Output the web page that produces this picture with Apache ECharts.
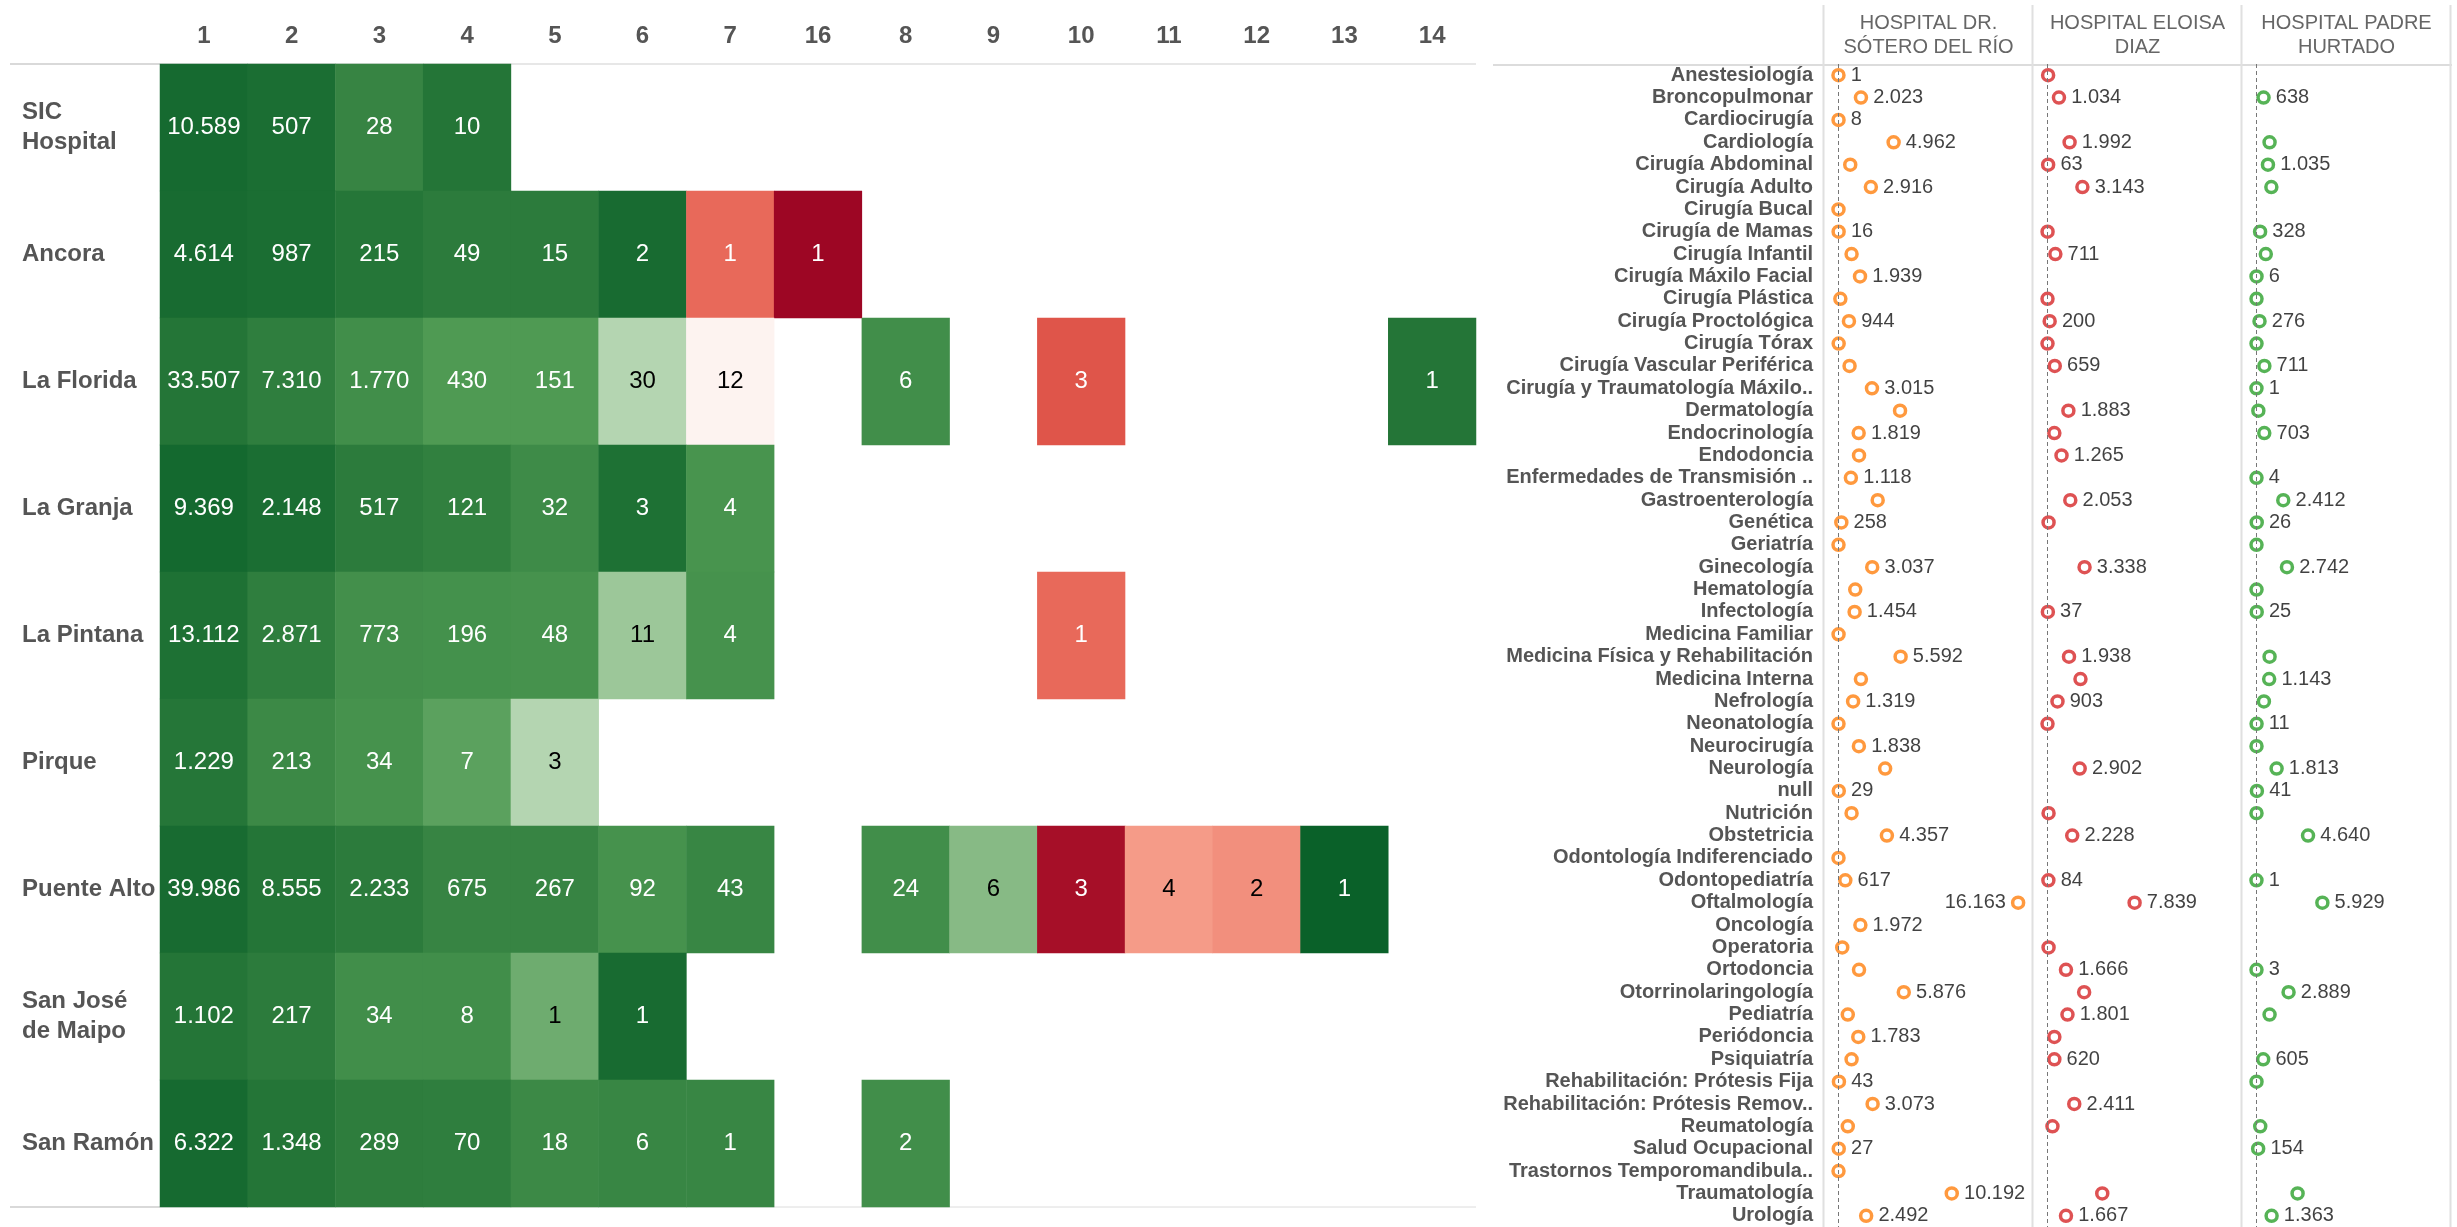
<!DOCTYPE html>
<html>
<head>
<meta charset="utf-8">
<script src="https://cdn.jsdelivr.net/npm/echarts@6/dist/echarts.min.js"></script>
<style>
  html, body { margin: 0; padding: 0; background: #fff; }
  #main { width: 2457px; height: 1227px; }
</style>
</head>
<body>
<div id="main"></div>
<script>
// heatmap: columns, rows, counts, colour measure
const cols = ['1', '2', '3', '4', '5', '6', '7', '16', '8', '9', '10', '11', '12', '13', '14'];
const rows = ['SIC\nHospital', 'Ancora', 'La Florida', 'La Granja', 'La Pintana', 'Pirque', 'Puente Alto', 'San José\nde Maipo', 'San Ramón'];

const counts = [
  [10589, 507, 28, 10],
  [4614, 987, 215, 49, 15, 2, 1, 1],
  [33507, 7310, 1770, 430, 151, 30, 12, null, 6, null, 3, null, null, null, 1],
  [9369, 2148, 517, 121, 32, 3, 4],
  [13112, 2871, 773, 196, 48, 11, 4, null, null, null, 1],
  [1229, 213, 34, 7, 3],
  [39986, 8555, 2233, 675, 267, 92, 43, null, 24, 6, 3, 4, 2, 1],
  [1102, 217, 34, 8, 1, 1],
  [6322, 1348, 289, 70, 18, 6, 1, null, 2]
];

// colour measure (-1 red .. 1 green)
const shade = [
  [0.93, 0.9, 0.74, 0.85],
  [0.92, 0.9, 0.84, 0.8, 0.8, 0.92, -0.4, -0.98],
  [0.85, 0.78, 0.68, 0.6, 0.6, 0.27, 0.0, null, 0.68, null, -0.5, null, null, null, 0.85],
  [0.94, 0.9, 0.8, 0.77, 0.7, 0.88, 0.64],
  [0.88, 0.78, 0.67, 0.66, 0.65, 0.35, 0.65, null, null, null, -0.4],
  [0.84, 0.71, 0.65, 0.56, 0.27],
  [0.92, 0.85, 0.8, 0.74, 0.74, 0.65, 0.73, null, 0.68, 0.42, -0.9, -0.2, -0.25, 1.0],
  [0.85, 0.8, 0.68, 0.68, 0.5, 0.92],
  [0.93, 0.85, 0.79, 0.78, 0.71, 0.73, 0.73, null, 0.68]
];

// dot panels
const hospitals = ['HOSPITAL DR.\nSÓTERO DEL RÍO', 'HOSPITAL ELOISA\nDIAZ', 'HOSPITAL PADRE\nHURTADO'];
const specialties = ['Anestesiología', 'Broncopulmonar', 'Cardiocirugía', 'Cardiología', 'Cirugía Abdominal',
  'Cirugía Adulto', 'Cirugía Bucal', 'Cirugía de Mamas', 'Cirugía Infantil', 'Cirugía Máxilo Facial',
  'Cirugía Plástica', 'Cirugía Proctológica', 'Cirugía Tórax', 'Cirugía Vascular Periférica',
  'Cirugía y Traumatología Máxilo..', 'Dermatología', 'Endocrinología', 'Endodoncia',
  'Enfermedades de Transmisión ..', 'Gastroenterología', 'Genética', 'Geriatría', 'Ginecología',
  'Hematología', 'Infectología', 'Medicina Familiar', 'Medicina Física y Rehabilitación',
  'Medicina Interna', 'Nefrología', 'Neonatología', 'Neurocirugía', 'Neurología', 'null', 'Nutrición',
  'Obstetricia', 'Odontología Indiferenciado', 'Odontopediatría', 'Oftalmología', 'Oncología',
  'Operatoria', 'Ortodoncia', 'Otorrinolaringología', 'Pediatría', 'Periódoncia', 'Psiquiatría',
  'Rehabilitación: Prótesis Fija', 'Rehabilitación: Prótesis Remov..', 'Reumatología',
  'Salud Ocupacional', 'Trastornos Temporomandibula..', 'Traumatología', 'Urología'];

const sotero = [1, 2023, 8, 4962, 1060, 2916, 3, 16, 1180, 1939, 170, 944, 20, 1000, 3015, 5540, 1819, 1850,
  1118, 3530, 258, 5, 3037, 1510, 1454, 10, 5592, 2020, 1319, 5, 1838, 4200, 29, 1180, 4357, 5, 617, 16163,
  1972, 340, 1850, 5876, 840, 1783, 1180, 43, 3073, 840, 27, 5, 10192, 2492];
const soteroLbl = [1, 1, 1, 1, 0, 1, 0, 1, 0, 1, 0, 1, 0, 0, 1, 0, 1, 0, 1, 0, 1, 0, 1, 0, 1, 0, 1, 0, 1, 0,
  1, 0, 1, 0, 1, 0, 1, 1, 1, 0, 0, 1, 0, 1, 0, 1, 1, 0, 1, 0, 1, 1];

const eloisa = [60, 1034, null, 1992, 63, 3143, null, 10, 711, null, 5, 200, 5, 659, null, 1883, 620, 1265,
  null, 2053, 100, null, 3338, null, 37, null, 1938, 2970, 903, 5, null, 2902, null, 100, 2228, null, 84, 7839,
  null, 100, 1666, 3300, 1801, 620, 620, null, 2411, 450, null, null, 4930, 1667];
const eloisaLbl = [0, 1, 0, 1, 1, 1, 0, 0, 1, 0, 0, 1, 0, 1, 0, 1, 0, 1, 0, 1, 0, 0, 1, 0, 1, 0, 1, 0, 1, 0,
  0, 1, 0, 0, 1, 0, 1, 1, 0, 0, 1, 0, 1, 0, 1, 0, 1, 0, 0, 0, 0, 1];

const hurtado = [null, 638, null, 1180, 1035, 1340, null, 328, 840, 6, 5, 276, 5, 711, 1, 170, 703, null, 4,
  2412, 26, 5, 2742, 5, 25, null, 1180, 1143, 670, 11, 5, 1813, 41, 5, 4640, null, 1, 5929, null, null, 3,
  2889, 1180, null, 605, 5, null, 340, 154, null, 3700, 1363];
const hurtadoLbl = [0, 1, 0, 0, 1, 0, 0, 1, 0, 1, 0, 1, 0, 1, 1, 0, 1, 0, 1, 1, 1, 0, 1, 0, 1, 0, 0, 1, 0, 1,
  0, 1, 1, 0, 1, 0, 1, 1, 0, 0, 1, 1, 0, 0, 1, 0, 0, 0, 1, 0, 0, 1];

const dotColors = ['#ff7f0e', '#d62728', '#2ca02c'];

const FONT = "'Liberation Sans', Arial, sans-serif";

function fmt(n) {
  return String(n).replace(/\B(?=(\d{3})+(?!\d))/g, '.');
}

const chart = echarts.init(document.getElementById('main'), null, { renderer: 'canvas' });

// heatmap cells
const cells = [];
counts.forEach((row, r) => {
  row.forEach((v, c) => {
    if (v == null) return;
    const t = shade[r][c];
    const dark = t > -0.3 && t < 0.53;
    cells.push({ value: [c, r, v, t], label: { color: dark ? '#000' : '#fff' } });
  });
});

function dots(vals, flags) {
  const out = [];
  vals.forEach((v, i) => {
    if (v == null) return;
    out.push({
      value: [v, i],
      label: { show: !!flags[i], position: v > 15000 ? 'left' : 'right' }
    });
  });
  return out;
}

const panelLeft = [1824, 2033, 2242];
const panelW = 209;

const grids = [{ left: 160, top: 64, width: 1316, height: 1143 }];
panelLeft.forEach(l => grids.push({ left: l, top: 64, width: panelW, height: 1163 }));

const xAxes = [{
  type: 'category', gridIndex: 0, position: 'top', data: cols,
  axisLine: { show: false }, axisTick: { show: false }, splitLine: { show: false },
  axisLabel: { fontFamily: FONT, fontSize: 24, fontWeight: 'bold', color: '#555', margin: 16 }
}];
const yAxes = [{
  type: 'category', gridIndex: 0, inverse: true, data: rows,
  axisLine: { show: false }, axisTick: { show: false },
  axisLabel: { fontFamily: FONT, fontSize: 24, fontWeight: 'bold', color: '#555', align: 'left', margin: 138, lineHeight: 30 }
}];
panelLeft.forEach((l, i) => {
  xAxes.push({
    type: 'value', gridIndex: i + 1, min: -1300, max: 17500, show: false
  });
  yAxes.push({
    type: 'category', gridIndex: i + 1, inverse: true, data: specialties,
    axisLine: { show: false }, axisTick: { show: false }, splitLine: { show: false },
    axisLabel: {
      show: i === 0, fontFamily: FONT, fontSize: 20, fontWeight: 'bold', color: '#555', margin: 11,
      interval: 0
    }
  });
});

const panelData = [dots(sotero, soteroLbl), dots(eloisa, eloisaLbl), dots(hurtado, hurtadoLbl)];

const series = [{
  type: 'heatmap',
  xAxisIndex: 0, yAxisIndex: 0,
  data: cells,
  label: {
    show: true, fontFamily: FONT, fontSize: 24,
    formatter: p => fmt(p.value[2])
  },
  emphasis: { disabled: true }
}];
panelData.forEach((d, i) => {
  series.push({
    type: 'scatter',
    xAxisIndex: i + 1, yAxisIndex: i + 1,
    data: d,
    symbol: 'circle', symbolSize: 11,
    itemStyle: { color: '#fff', borderColor: dotColors[i], borderWidth: 3.5 },
    label: {
      fontFamily: FONT, fontSize: 20, color: '#111', distance: 5,
      formatter: p => fmt(p.value[0])
    },
    markLine: {
      silent: true, symbol: 'none', label: { show: false },
      lineStyle: { color: '#777', type: [4, 3], width: 1 },
      data: [{ xAxis: 0 }]
    },
    emphasis: { disabled: true },
    z: 3
  });
});

// decorative rules and panel headers
const graphic = [
  { type: 'line', shape: { x1: 10, y1: 64, x2: 160, y2: 64 }, style: { stroke: '#d9d9d9', lineWidth: 2 } },
  { type: 'line', shape: { x1: 160, y1: 64, x2: 1476, y2: 64 }, style: { stroke: '#cfcfcf', lineWidth: 1 } },
  { type: 'line', shape: { x1: 10, y1: 1207, x2: 160, y2: 1207 }, style: { stroke: '#d9d9d9', lineWidth: 2 } },
  { type: 'line', shape: { x1: 160, y1: 1207, x2: 1476, y2: 1207 }, style: { stroke: '#dcdcdc', lineWidth: 1 } },
  { type: 'line', shape: { x1: 1493, y1: 65, x2: 2452, y2: 65 }, style: { stroke: '#dcdcdc', lineWidth: 2 } }
];
panelLeft.concat([2451]).forEach(x => {
  graphic.push({ type: 'line', shape: { x1: x - 0.5, y1: 5, x2: x - 0.5, y2: 1227 }, style: { stroke: '#e0e0e0', lineWidth: 2 } });
});
hospitals.forEach((h, i) => {
  graphic.push({
    type: 'text', x: panelLeft[i] + panelW / 2, y: 11,
    style: { text: h, align: 'center', verticalAlign: 'top', fill: '#666', font: '20px ' + FONT, lineHeight: 24 }
  });
});

chart.setOption({
  animation: false,
  backgroundColor: '#fff',
  grid: grids,
  xAxis: xAxes,
  yAxis: yAxes,
  visualMap: {
    type: 'continuous', show: false, seriesIndex: 0, dimension: 3, min: -1, max: 1,
    inRange: {
      color: ['#9b0423', '#b11b2c', '#d6403a', '#e8695a', '#f59b88', '#fdf3f0',
        '#c9e1c6', '#8dbe8a', '#4f9a53', '#2c7b3c', '#0a6129']
    }
  },
  series: series,
  graphic: graphic
});
</script>
</body>
</html>
